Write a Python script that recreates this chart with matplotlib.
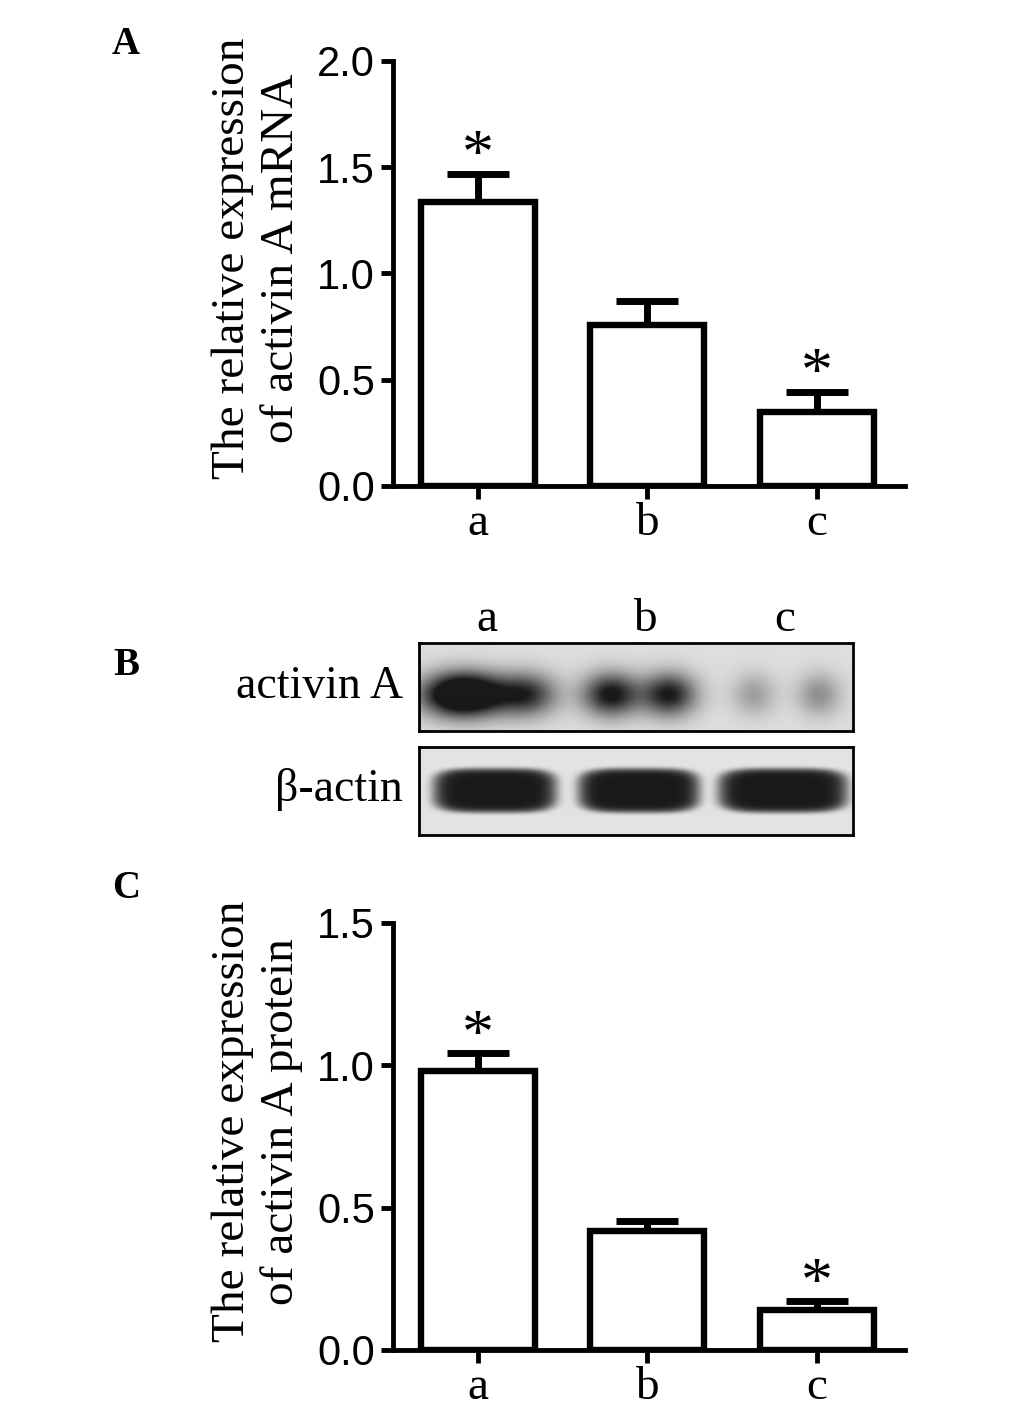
import numpy as np
import matplotlib.pyplot as plt

groups = ['a', 'b', 'c']

mrna_mean = [1.335, 0.758, 0.350]
mrna_sem = [0.135, 0.110, 0.094]
mrna_star = [True, False, True]

protein_mean = [0.980, 0.418, 0.140]
protein_sem = [0.064, 0.035, 0.032]
protein_star = [True, False, True]

# western blot, box coords in px (434 wide, 88 tall)
activin_x = [45, 108, 192, 250, 335, 400]
activin_w = [40, 30, 28, 27, 22, 22]
activin_dark = [1.7, 0.85, 1.05, 1.0, 0.32, 0.40]
activin_yc, activin_hh = 52, 21
actin_x = [76, 220, 364]
actin_w = [62, 61, 65]
actin_dark = [1.0, 1.0, 1.0]
actin_yc, actin_hh = 44, 22

serif = 'Liberation Serif'
sans = 'Liberation Sans'

fig = plt.figure(figsize=(10.33, 14.13), dpi=100)


def bar_panel(rect, means, sems, stars, ymax, yticks, ylabel):
    ax = fig.add_axes(rect)
    x = np.arange(len(groups))
    ax.errorbar(x, means, yerr=[[0] * len(sems), sems], fmt='none', ecolor='black',
                elinewidth=5, capsize=22, capthick=5, zorder=1)
    ax.bar(x, means, width=0.67, color='white', edgecolor='black', linewidth=4.6, zorder=2)
    for xi, m, s, st in zip(x, means, sems, stars):
        if st:
            ax.annotate('*', (xi, m + s), xytext=(0, -10), textcoords='offset points',
                        ha='center', va='bottom', fontsize=46, family=serif)
    ax.set_xlim(-0.5, 2.52)
    ax.set_ylim(0, ymax)
    ax.set_yticks(yticks)
    ax.set_yticklabels(['%.1f' % t for t in yticks], family=sans, fontsize=30)
    ax.set_xticks(x)
    ax.set_xticklabels(groups, family=serif, fontsize=34)
    ax.tick_params(length=9, width=3.5, pad=4)
    ax.tick_params(axis='x', pad=3)
    for s in ['top', 'right']:
        ax.spines[s].set_visible(False)
    for s in ['left', 'bottom']:
        ax.spines[s].set_linewidth(3.5)
    ax.set_ylabel(ylabel, family=serif, fontsize=34, linespacing=1.2)
    ax.yaxis.set_label_coords(-0.175, 0.535)
    return ax


bar_panel([0.3804, 0.6561, 0.4956, 0.3008], mrna_mean, mrna_sem, mrna_star, 2.0,
          [0.0, 0.5, 1.0, 1.5, 2.0], 'The relative expression\nof activin A mRNA')
bar_panel([0.3804, 0.0446, 0.4956, 0.3022], protein_mean, protein_sem, protein_star, 1.5,
          [0.0, 0.5, 1.0, 1.5], 'The relative expression\nof activin A protein')


def blot(rect, xs, ws, darks, yc, hh, bg, rounded):
    ax = fig.add_axes(rect)
    h, w = 88, 434
    X, Y = np.meshgrid(np.arange(w) + 0.5, np.arange(h) + 0.5)
    d = np.zeros_like(X)
    for x0, hw, k in zip(xs, ws, darks):
        if rounded:
            r = (np.abs((X - x0) / hw) ** 4 + np.abs((Y - yc) / hh) ** 4) ** 0.25
            d += k * np.exp(-r ** 10)
        else:
            d += k * np.exp(-((X - x0) / hw) ** 2 - ((Y - yc) / hh) ** 2)
    d = np.clip(d, 0, 1)
    img = bg - d * (bg - 0.1)
    ax.imshow(img, cmap='gray', vmin=0, vmax=1, extent=(0, w, h, 0),
              aspect='auto', interpolation='bilinear')
    ax.set_xticks([])
    ax.set_yticks([])
    for s in ax.spines.values():
        s.set_linewidth(2)
    return ax


blot([0.4056, 0.4827, 0.4201, 0.0623], activin_x, activin_w, activin_dark,
     activin_yc, activin_hh, 0.87, False)
blot([0.4056, 0.4091, 0.4201, 0.0623], actin_x, actin_w, actin_dark,
     actin_yc, actin_hh, 0.89, True)

lane_x = [487, 645, 785]
for lx, g in zip(lane_x, groups):
    fig.text(lx / 1033, 1 - 620 / 1413, g, ha='center', va='center', family=serif, fontsize=34)
fig.text(403 / 1033, 1 - 687 / 1413, 'activin A', ha='right', va='center', family=serif, fontsize=33)
fig.text(403 / 1033, 1 - 790 / 1413, 'β-actin', ha='right', va='center', family=serif, fontsize=33)

for lab, y in zip(['A', 'B', 'C'], [45, 665, 888]):
    fig.text(126 / 1033, 1 - y / 1413, lab, ha='center', va='center', family=serif,
             fontsize=28, fontweight='bold')

fig.savefig('out.png', dpi=100)
